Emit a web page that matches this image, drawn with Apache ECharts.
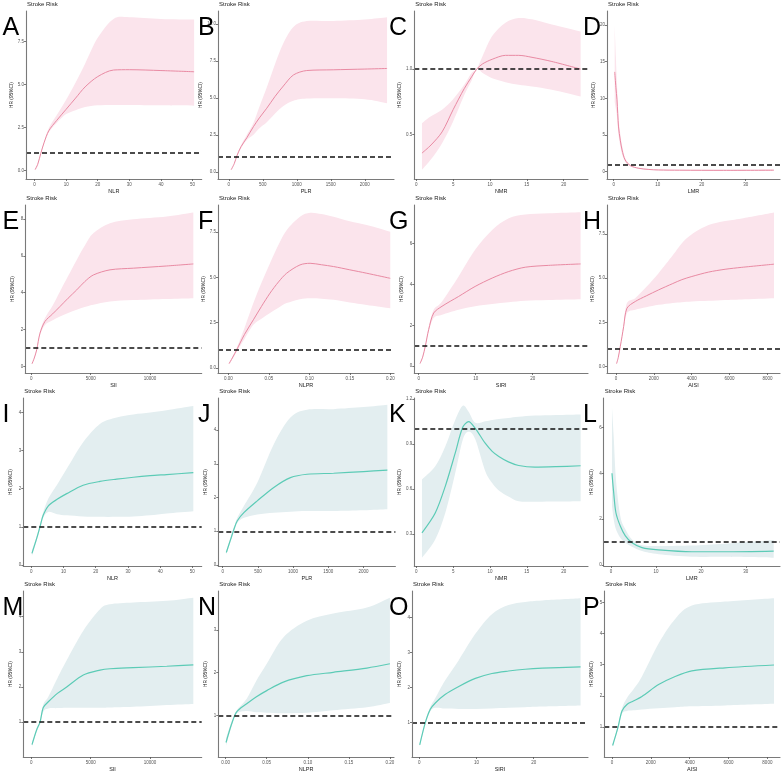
<!DOCTYPE html>
<html><head><meta charset="utf-8">
<script src="https://cdn.jsdelivr.net/npm/echarts@6/dist/echarts.min.js"></script>
<style>html,body{margin:0;padding:0;background:#fff}#c{width:784px;height:773px}</style>
</head><body><div id="c"></div><script>
// ---------- DATA ----------
// A: NLR (pink)
const aX   = [0.2, 1, 2, 3, 4.5, 7, 10, 13, 16, 20, 25, 30, 40, 50.5];
const aEst = [0.05, 0.35, 1.0, 1.6, 2.3, 2.9, 3.55, 4.2, 4.85, 5.45, 5.83, 5.85, 5.8, 5.73];
const aLo  = [0.0, 0.3, 0.95, 1.55, 2.2, 2.75, 3.27, 3.5, 3.68, 3.78, 3.8, 3.8, 3.78, 3.76];
const aHi  = [0.1, 0.4, 1.05, 1.65, 2.45, 3.2, 4.1, 5.1, 6.2, 7.7, 8.8, 8.9, 8.8, 8.76];
const aXT = [0, 10, 20, 30, 40, 50], aYT = [0, 2.5, 5, 7.5];
// B: PLR
const bX   = [35, 80, 119, 180, 265, 362, 450, 558, 680, 802, 950, 1145, 1535, 2000, 2327];
const bEst = [0.14, 0.55, 1.08, 1.7, 2.3, 3.05, 3.65, 4.3, 5.1, 5.8, 6.55, 6.85, 6.9, 6.95, 6.99];
const bLo  = [0.1, 0.5, 1.02, 1.6, 2.15, 2.5, 2.95, 3.35, 3.95, 4.45, 4.8, 4.95, 4.97, 4.9, 4.63];
const bHi  = [0.18, 0.6, 1.14, 1.8, 2.5, 3.3, 4.4, 5.7, 7.3, 8.7, 9.8, 10.2, 10.2, 10.3, 10.45];
const bXT = [0, 500, 1000, 1500, 2000], bYT = [0, 2.5, 5, 7.5, 10];
// C: NMR
const cX   = [0.77, 2, 3.5, 5, 6.5, 7.5, 8.2, 9, 10.3, 12.1, 13.9, 15.7, 18.4, 22.3];
const cEst = [0.358, 0.42, 0.52, 0.69, 0.85, 0.94, 1.0, 1.04, 1.075, 1.105, 1.105, 1.09, 1.058, 1.0];
const cLo  = [0.23, 0.31, 0.434, 0.6, 0.8, 0.91, 1.0, 0.97, 0.93, 0.9, 0.88, 0.867, 0.842, 0.791];
const cHi  = [0.587, 0.64, 0.69, 0.77, 0.88, 0.97, 1.0, 1.1, 1.253, 1.355, 1.39, 1.38, 1.34, 1.287];
const cXT = [0, 5, 10, 15, 20], cYT = [0.5, 1.0];
// D: LMR
const dX   = [0.23, 0.5, 0.75, 1.1, 1.5, 1.9, 2.6, 3.8, 5.7, 8, 10.2, 15, 25, 36.4];
const dEst = [13.6, 11.5, 9.8, 6.1, 4.3, 2.96, 1.6, 0.82, 0.46, 0.3, 0.23, 0.2, 0.18, 0.2];
const dLo  = [9.5, 8.5, 7.5, 5.0, 3.5, 2.4, 1.35, 0.7, 0.4, 0.25, 0.18, 0.15, 0.13, 0.12];
const dHi  = [20, 15.5, 12, 7.5, 5.2, 3.6, 1.9, 0.95, 0.52, 0.35, 0.28, 0.25, 0.25, 0.3];
const dXT = [0, 10, 20, 30], dYT = [0, 5, 10, 15, 20];
// E: SII
const eX   = [60, 250, 455, 733, 1154, 1800, 2418, 3100, 3825, 4500, 5223, 6630, 8593, 11407, 13650];
const eEst = [0.14, 0.45, 0.9, 1.8, 2.44, 2.85, 3.25, 3.7, 4.15, 4.6, 4.96, 5.24, 5.33, 5.45, 5.56];
const eLo  = [0.12, 0.42, 0.85, 1.7, 2.25, 2.5, 2.71, 2.9, 3.07, 3.22, 3.34, 3.52, 3.6, 3.66, 3.7];
const eHi  = [0.16, 0.48, 0.95, 1.9, 2.62, 3.3, 4.06, 4.9, 5.78, 6.55, 7.22, 7.77, 7.98, 8.13, 8.35];
const eXT = [0, 5000, 10000], eYT = [0, 2, 4, 6, 8];
// F: NLPR
const fX   = [0.001, 0.005, 0.0104, 0.02, 0.031, 0.041, 0.0515, 0.062, 0.072, 0.0885, 0.101, 0.115, 0.13, 0.15, 0.171, 0.2];
const fEst = [0.24, 0.55, 1.0, 1.85, 2.66, 3.4, 4.13, 4.75, 5.23, 5.69, 5.78, 5.7, 5.6, 5.42, 5.23, 4.95];
const fLo  = [0.2, 0.48, 0.9, 1.6, 2.38, 2.72, 3.03, 3.32, 3.58, 3.8, 3.85, 3.82, 3.76, 3.62, 3.48, 3.3];
const fHi  = [0.28, 0.62, 1.1, 2.2, 3.58, 4.7, 5.78, 6.8, 7.61, 8.35, 8.57, 8.5, 8.35, 8.1, 7.89, 7.52];
const fXT = [0, 0.05, 0.10, 0.15, 0.20], fYT = [0, 2.5, 5, 7.5];
// G: SIRI
const gX   = [0.23, 0.7, 1.16, 1.75, 2.63, 4.09, 7.0, 9.9, 12.9, 15.8, 18.7, 22.8, 28.4];
const gEst = [0.13, 0.45, 0.98, 1.79, 2.6, 2.93, 3.41, 3.9, 4.31, 4.63, 4.84, 4.93, 5.0];
const gLo  = [0.11, 0.4, 0.9, 1.68, 2.36, 2.52, 2.76, 2.93, 3.04, 3.13, 3.2, 3.24, 3.28];
const gHi  = [0.15, 0.5, 1.05, 1.9, 2.76, 3.17, 4.39, 5.69, 6.66, 7.23, 7.42, 7.48, 7.53];
const gXT = [0, 10, 20], gYT = [0, 2, 4, 6];
// H: AISI
const hX   = [30, 120, 227, 320, 406, 580, 1018, 1600, 2252, 3000, 3481, 4008, 4889, 5765, 6646, 8350];
const hEst = [0.15, 0.5, 1.13, 1.7, 2.27, 3.3, 3.68, 4.0, 4.34, 4.7, 4.92, 5.1, 5.35, 5.51, 5.62, 5.8];
const hLo  = [0.13, 0.45, 1.06, 1.6, 2.12, 3.02, 3.21, 3.35, 3.49, 3.6, 3.64, 3.68, 3.72, 3.77, 3.8, 3.87];
const hHi  = [0.17, 0.55, 1.2, 1.8, 2.42, 3.59, 3.87, 4.5, 5.29, 6.3, 6.99, 7.5, 8.02, 8.25, 8.4, 8.74];
const hXT = [0, 2000, 4000, 6000, 8000], hYT = [0, 2.5, 5, 7.5];
// I: NLR (teal)
const iX   = [0.2, 1.7, 2.7, 3.7, 5.3, 8, 11, 16.1, 21.3, 26.5, 31.7, 36.9, 42, 50.3];
const iEst = [0.3, 0.7, 1.0, 1.3, 1.55, 1.72, 1.87, 2.09, 2.19, 2.25, 2.3, 2.34, 2.37, 2.42];
const iLo  = [0.23, 0.64, 0.94, 1.24, 1.39, 1.33, 1.30, 1.27, 1.26, 1.26, 1.27, 1.3, 1.35, 1.41];
const iHi  = [0.38, 0.76, 1.06, 1.38, 1.74, 2.1, 2.52, 3.22, 3.7, 3.87, 3.95, 4.0, 4.06, 4.17];
const iXT = [0, 10, 20, 30, 40, 50], iYT = [0, 1, 2, 3, 4];
// J: PLR
const jX   = [52, 113, 160, 208, 301, 491, 726, 962, 1198, 1574, 2000, 2338];
const jEst = [0.37, 0.76, 1.06, 1.31, 1.55, 1.9, 2.3, 2.59, 2.69, 2.72, 2.77, 2.81];
const jLo  = [0.3, 0.7, 1.0, 1.25, 1.4, 1.5, 1.55, 1.58, 1.6, 1.6, 1.62, 1.65];
const jHi  = [0.42, 0.82, 1.12, 1.4, 1.75, 2.44, 3.58, 4.37, 4.6, 4.62, 4.68, 4.75];
const jXT = [0, 500, 1000, 1500, 2000], jYT = [0, 1, 2, 3, 4];
// K: NMR
const kX   = [0.77, 2.57, 3.93, 5.28, 6.3, 7.1, 8.0, 9.35, 10.3, 11.2, 12.5, 13.9, 16.1, 19, 22.3];
const kEst = [0.308, 0.44, 0.617, 0.838, 1.01, 1.048, 1.003, 0.904, 0.85, 0.816, 0.78, 0.756, 0.745, 0.748, 0.754];
const kLo  = [0.142, 0.264, 0.44, 0.705, 0.926, 0.98, 0.93, 0.72, 0.64, 0.59, 0.55, 0.518, 0.515, 0.516, 0.518];
const kHi  = [0.662, 0.75, 0.882, 1.059, 1.154, 1.114, 1.04, 1.05, 1.059, 1.065, 1.072, 1.08, 1.088, 1.092, 1.096];
const kXT = [0, 5, 10, 15, 20], kYT = [0.3, 0.6, 0.9, 1.2];
// L: LMR
const lX   = [0.22, 0.6, 1.1, 2.07, 3.2, 4.67, 6.9, 10.6, 18, 25.4, 36.2];
const lEst = [4.0, 3.16, 2.28, 1.7, 1.27, 0.97, 0.76, 0.66, 0.58, 0.58, 0.61];
const lLo  = [2.58, 2.0, 1.56, 1.19, 0.97, 0.8, 0.61, 0.47, 0.36, 0.36, 0.32];
const lHi  = [6.87, 5.63, 3.74, 2.14, 1.56, 1.12, 0.86, 0.83, 0.85, 0.93, 1.09];
const lXT = [0, 10, 20, 30], lYT = [0, 2, 4, 6];
// M: SII
const mX   = [59, 455, 733, 1011, 1432, 2200, 2982, 4381, 5788, 6630, 8593, 11407, 13650];
const mEst = [0.363, 0.786, 1.0, 1.42, 1.58, 1.82, 2.0, 2.34, 2.48, 2.52, 2.55, 2.59, 2.63];
const mLo  = [0.3, 0.74, 0.95, 1.3, 1.39, 1.4, 1.41, 1.41, 1.41, 1.42, 1.44, 1.49, 1.52];
const mHi  = [0.42, 0.83, 1.05, 1.5, 1.72, 2.25, 2.76, 3.6, 4.21, 4.35, 4.4, 4.45, 4.54];
const mXT = [0, 5000, 10000], mYT = [1, 2, 3, 4];
// N: NLPR
const nX   = [0.0004, 0.0073, 0.0134, 0.0256, 0.037, 0.05, 0.0702, 0.0988, 0.131, 0.172, 0.2];
const nEst = [0.36, 0.80, 1.08, 1.27, 1.43, 1.58, 1.78, 1.93, 2.01, 2.11, 2.21];
const nLo  = [0.28, 0.74, 1.04, 1.1, 1.07, 1.06, 1.05, 1.06, 1.12, 1.19, 1.29];
const nHi  = [0.46, 0.86, 1.12, 1.39, 1.8, 2.21, 2.83, 3.22, 3.39, 3.53, 3.76];
const nXT = [0, 0.05, 0.10, 0.15, 0.20], nYT = [1, 2, 3];
// O: SIRI
const oX   = [0.07, 1.05, 1.92, 2.8, 4.5, 6.9, 9.8, 12.7, 15.6, 18.5, 21.5, 28.2];
const oEst = [0.365, 1.0, 1.38, 1.56, 1.8, 2.03, 2.26, 2.4, 2.47, 2.52, 2.55, 2.59];
const oLo  = [0.31, 0.95, 1.32, 1.42, 1.4, 1.39, 1.39, 1.4, 1.42, 1.44, 1.46, 1.49];
const oHi  = [0.42, 1.05, 1.45, 1.7, 2.2, 2.78, 3.53, 4.09, 4.35, 4.44, 4.48, 4.54];
const oXT = [0, 10, 20], oYT = [1, 2, 3, 4];
// P: AISI
const pX   = [34, 308, 514, 771, 1100, 1542, 2400, 3253, 4111, 5822, 8340];
const pEst = [0.4, 0.98, 1.51, 1.72, 1.83, 1.98, 2.36, 2.62, 2.8, 2.9, 2.99];
const pLo  = [0.35, 0.92, 1.42, 1.51, 1.53, 1.56, 1.6, 1.63, 1.66, 1.69, 1.74];
const pHi  = [0.45, 1.04, 1.6, 1.93, 2.2, 2.62, 3.68, 4.47, 4.9, 5.03, 5.14];
const pXT = [0, 2000, 4000, 6000, 8000], pYT = [1, 2, 3, 4, 5];

const letters = ['A','B','C','D','E','F','G','H','I','J','K','L','M','N','O','P'];
const xNames  = ['NLR','PLR','NMR','LMR','SII','NLPR','SIRI','AISI','NLR','PLR','NMR','LMR','SII','NLPR','SIRI','AISI'];
const titleText = 'Stroke Risk';
const yName = 'HR (95%CI)';

// ---------- LAYOUT / STYLE ----------
const panels = [
 {d:[aX,aEst,aLo,aHi,aXT,aYT], l:26,   r:201.7, xr:[-2.7,52.9],   yr:[-0.5,9.26],   xd:0, yd:1},
 {d:[bX,bEst,bLo,bHi,bXT,bYT], l:218,  r:394,   xr:[-159,2429],   yr:[-0.49,10.88], xd:0, yd:1},
 {d:[cX,cEst,cLo,cHi,cXT,cYT], l:414.3,r:588,   xr:[-0.27,23.3],  yr:[0.16,1.444],  xd:0, yd:1},
 {d:[dX,dEst,dLo,dHi,dXT,dYT], l:607,  r:780,   xr:[-1.52,37.8],  yr:[-1.0,21.9],   xd:0, yd:0},
 {d:[eX,eEst,eLo,eHi,eXT,eYT], l:25.3, r:201.7, xr:[-505,14355],  yr:[-0.36,8.76],  xd:0, yd:0},
 {d:[fX,fEst,fLo,fHi,fXT,fYT], l:218,  r:394,   xr:[-0.0127,0.2046], yr:[-0.28,9.0], xd:2, yd:1},
 {d:[gX,gEst,gLo,gHi,gXT,gYT], l:414.3,r:588,   xr:[-0.77,29.7],  yr:[-0.33,7.88],  xd:0, yd:0},
 {d:[hX,hEst,hLo,hHi,hXT,hYT], l:607,  r:780,   xr:[-475,8666],   yr:[-0.38,9.16],  xd:0, yd:1},
 {d:[iX,iEst,iLo,iHi,iXT,iYT], l:23.3, r:201.7, xr:[-2.48,52.9],  yr:[-0.03,4.38],  xd:0, yd:0},
 {d:[jX,jEst,jLo,jHi,jXT,jYT], l:218.3,r:395.4, xr:[-62,2452],    yr:[-0.03,4.95],  xd:0, yd:0},
 {d:[kX,kEst,kLo,kHi,kXT,kYT], l:414.3,r:588,   xr:[-0.27,23.3],  yr:[0.087,1.205], xd:0, yd:1},
 {d:[lX,lEst,lLo,lHi,lXT,lYT], l:603.7,r:780,   xr:[-1.62,37.6],  yr:[-0.04,7.28],  xd:0, yd:0},
 {d:[mX,mEst,mLo,mHi,mXT,mYT], l:23.3, r:201.7, xr:[-674,14355],  yr:[0.01,4.73],   xd:0, yd:0},
 {d:[nX,nEst,nLo,nHi,nXT,nYT], l:218.3,r:394,   xr:[-0.009,0.205],yr:[0.02,3.92],   xd:2, yd:0},
 {d:[oX,oEst,oLo,oHi,oXT,oYT], l:412,  r:588,   xr:[-1.28,29.5],  yr:[0.02,4.75],   xd:0, yd:0},
 {d:[pX,pEst,pLo,pHi,pXT,pYT], l:604.3,r:780,   xr:[-396,8650],   yr:[0.03,5.37],   xd:0, yd:0}
];
const rowTop = [11, 205, 398, 591];
const plotH = 168;
const letterX = [2.5, 198, 389, 583];
const pinkLine = '#e98aa3', pinkFill = '#fbe4ec';
const tealLine = '#5ccbb6', tealFill = '#e3eef0';
const FONT = 'Liberation Sans, Arial, sans-serif';
const SM = 0.3;

// smooth cubic path through pixel points (Catmull-Rom style, x-clamped controls)
function curveSeg(pts, t) {
  let s = '';
  const n = pts.length;
  for (let k = 0; k < n - 1; k++) {
    const p0 = pts[Math.max(k - 1, 0)], p1 = pts[k], p2 = pts[k + 1], p3 = pts[Math.min(k + 2, n - 1)];
    let c1x = p1[0] + (p2[0] - p0[0]) * t, c1y = p1[1] + (p2[1] - p0[1]) * t;
    let c2x = p2[0] - (p3[0] - p1[0]) * t, c2y = p2[1] - (p3[1] - p1[1]) * t;
    const lo = Math.min(p1[0], p2[0]), hi = Math.max(p1[0], p2[0]);
    c1x = Math.min(Math.max(c1x, lo), hi); c2x = Math.min(Math.max(c2x, lo), hi);
    s += ` C${c1x},${c1y} ${c2x},${c2y} ${p2[0]},${p2[1]}`;
  }
  return s;
}

const grid = [], xAxis = [], yAxis = [], series = [], graphic = [];
panels.forEach((p, i) => {
  const [X, E, LO, HI, XT, YT] = p.d;
  const row = Math.floor(i / 4), col = i % 4;
  const top = rowTop[row];
  const pink = i < 8;
  grid.push({left: p.l, top: top, width: p.r - p.l, height: plotH, containLabel: false});
  const axLine = {show: true, lineStyle: {color: '#7a7a7a', width: 1.1}};
  const tick = {show: true, length: 2, lineStyle: {color: '#555', width: 0.8}};
  xAxis.push({
    type: 'value', gridIndex: i, min: p.xr[0], max: p.xr[1], z: 10,
    name: xNames[i], nameLocation: 'middle', nameGap: 9,
    nameTextStyle: {fontSize: 5.5, color: '#222', fontFamily: FONT},
    axisLine: {...axLine, onZero: false}, splitLine: {show: false},
    axisTick: {...tick, customValues: XT},
    axisLabel: {customValues: XT, fontSize: 4.5, color: '#555', margin: 3, fontFamily: FONT,
      formatter: v => Number(v).toFixed(p.xd)}
  });
  yAxis.push({
    type: 'value', gridIndex: i, min: p.yr[0], max: p.yr[1], z: 10,
    name: yName, nameLocation: 'middle', nameGap: 10, nameRotate: 90,
    nameTextStyle: {fontSize: 4.8, color: '#222', fontFamily: FONT},
    axisLine: {...axLine, onZero: false}, splitLine: {show: false},
    axisTick: {...tick, customValues: YT},
    axisLabel: {customValues: YT, fontSize: 4.5, color: '#555', margin: 2, fontFamily: FONT,
      formatter: v => Number(v).toFixed(p.yd)}
  });
  // 95% CI ribbon
  series.push({
    type: 'custom', xAxisIndex: i, yAxisIndex: i, silent: true, z: 1, clip: true,
    data: X.map((x, k) => [x, LO[k], HI[k]]),
    renderItem: (params, api) => {
      if (params.dataIndex !== 0) return null;
      const up = X.map((x, k) => api.coord([x, HI[k]]));
      const dn = X.map((x, k) => api.coord([x, LO[k]])).reverse();
      const d = `M${up[0][0]},${up[0][1]}` + curveSeg(up, 0.16) +
                ` L${dn[0][0]},${dn[0][1]}` + curveSeg(dn, 0.16) + ' Z';
      return {type: 'path', shape: {pathData: d}, style: {fill: pink ? pinkFill : tealFill, stroke: null}};
    }
  });
  series.push({
    type: 'line', xAxisIndex: i, yAxisIndex: i, symbol: 'none', silent: true,
    smooth: SM, z: 3,
    lineStyle: {width: pink ? 1 : 1.2, color: pink ? pinkLine : tealLine},
    data: X.map((x, k) => [x, E[k]]),
    markLine: {silent: true, symbol: 'none', label: {show: false}, animation: false,
      lineStyle: {type: [5, 3], color: '#111', width: 1.5},
      data: [{yAxis: 1}]}
  });
  graphic.push({type: 'text', left: p.l + 1, top: top - 10, z: 100,
    style: {text: titleText, fontSize: 6, fill: '#222', fontFamily: FONT}});
  graphic.push({type: 'text', left: letterX[col], top: top + 5, z: 100,
    style: {text: letters[i], fontSize: 25, fill: '#000', fontFamily: FONT}});
});

const chart = echarts.init(document.getElementById('c'), null, {renderer: 'canvas'});
chart.setOption({animation: false, backgroundColor: '#fff', grid, xAxis, yAxis, series, graphic});
</script></body></html>
